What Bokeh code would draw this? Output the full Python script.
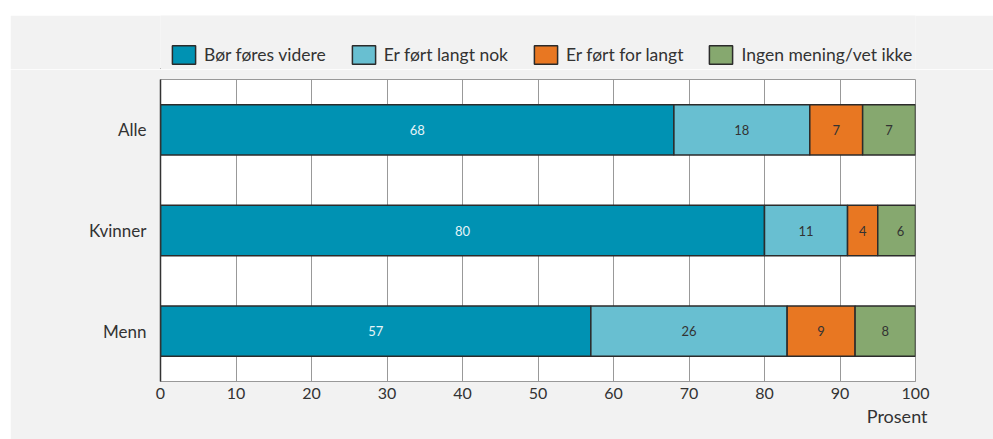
from bokeh.plotting import figure
from bokeh.layouts import column
from bokeh.models import FactorRange, Legend, LegendItem, ColumnDataSource, Title
from bokeh.core.properties import value
from bokeh.embed import file_html
from bokeh.resources import INLINE

categories = ["Alle", "Kvinner", "Menn"]
series_names = ["Bør føres videre", "Er ført langt nok", "Er ført for langt", "Ingen mening/vet ikke"]
bor_fores_videre = [68, 80, 57]
fort_langt_nok = [18, 11, 26]
fort_for_langt = [7, 4, 9]
ingen_mening = [7, 6, 8]
x_ticks = [0, 10, 20, 30, 40, 50, 60, 70, 80, 90, 100]
x_title = "Prosent"

series = [bor_fores_videre, fort_langt_nok, fort_for_langt, ingen_mening]
colors = ["#0092b3", "#68bfd1", "#e87722", "#86a86f"]
text_colors = ["#e6f4f8", "#333333", "#333333", "#333333"]

FONT = "Lato"
BG = "#f2f2f2"

# ---- main chart ----
p = figure(width=983, height=370, output_backend="svg", toolbar_location=None,
           y_range=FactorRange(factors=categories[::-1], range_padding=0),
           x_range=(0, 100),
           min_border_left=150, min_border_right=78, min_border_top=10, min_border_bottom=58)
p.margin = (0, 0, 0, 10)
p.border_fill_color = BG
p.background_fill_color = "white"
p.outline_line_color = "#999999"
p.outline_line_width = 1

p.xgrid.ticker = x_ticks
p.xgrid.grid_line_color = "#999999"
p.xgrid.grid_line_width = 1
p.ygrid.grid_line_color = None

p.xaxis.ticker = x_ticks
p.xaxis.axis_line_color = "#999999"
p.xaxis.major_tick_line_color = None
p.xaxis.minor_tick_line_color = None
p.xaxis.major_label_standoff = 0
p.xaxis.major_label_text_font = FONT
p.xaxis.major_label_text_font_size = "16px"
p.xaxis.major_label_text_color = "#333333"

p.add_layout(Title(text=x_title, align="right", offset=-12, standoff=3,
                   text_font=FONT, text_font_style="normal",
                   text_font_size="18px", text_color="#333333"), "below")

p.yaxis.axis_line_color = "#333333"
p.yaxis.axis_line_width = 1.5
p.yaxis.major_tick_line_color = None
p.yaxis.minor_tick_line_color = None
p.yaxis.major_label_standoff = 8
p.yaxis.major_label_text_font = FONT
p.yaxis.major_label_text_font_size = "17px"
p.yaxis.major_label_text_color = "#333333"

lefts = [0] * len(categories)
for name, vals, col, tcol in zip(series_names, series, colors, text_colors):
    rights = [l + v for l, v in zip(lefts, vals)]
    mids = [(l + r) / 2 for l, r in zip(lefts, rights)]
    src = ColumnDataSource(dict(y=categories, left=lefts, right=rights, mid=mids,
                                lab=[str(v) for v in vals]))
    p.hbar(y="y", left="left", right="right", height=0.5, source=src,
           fill_color=col, line_color="#2b2b2b", line_width=1.5)
    p.text(x="mid", y="y", text="lab", source=src, text_align="center",
           text_baseline="middle", text_color=tcol, text_font=value(FONT),
           text_font_size="13px")
    lefts = rights

# ---- legend strip ----
lf = figure(width=983, height=54, output_backend="svg", toolbar_location=None,
            x_axis_type=None, y_axis_type=None, x_range=(0, 1), y_range=(0, 1),
            min_border=0, min_border_left=0, min_border_right=0,
            min_border_top=0, min_border_bottom=0)
lf.margin = (15, 0, 0, 10)
lf.border_fill_color = BG
lf.background_fill_color = BG
lf.outline_line_color = None
lf.xgrid.visible = False
lf.ygrid.visible = False

items = []
for name, col in zip(series_names, colors):
    # placeholder bar kept far outside the visible range; only its legend swatch shows
    r = lf.hbar(y=[-50], left=[-50], right=[-49], height=0.5,
                fill_color=col, line_color="#2b2b2b", line_width=1.5)
    items.append(LegendItem(label=name, renderers=[r]))

legend = Legend(items=items, orientation="horizontal", location=(9, 3),
                glyph_width=29, glyph_height=23, label_standoff=6, spacing=23,
                padding=0, margin=0, border_line_color=None,
                background_fill_alpha=0, label_text_font=FONT,
                label_text_font_size="17.5px", label_text_color="#333333",
                label_height=23)
lf.add_layout(legend)

layout = column(lf, p, spacing=0)

open("out.html", "w").write(file_html(layout, INLINE))
